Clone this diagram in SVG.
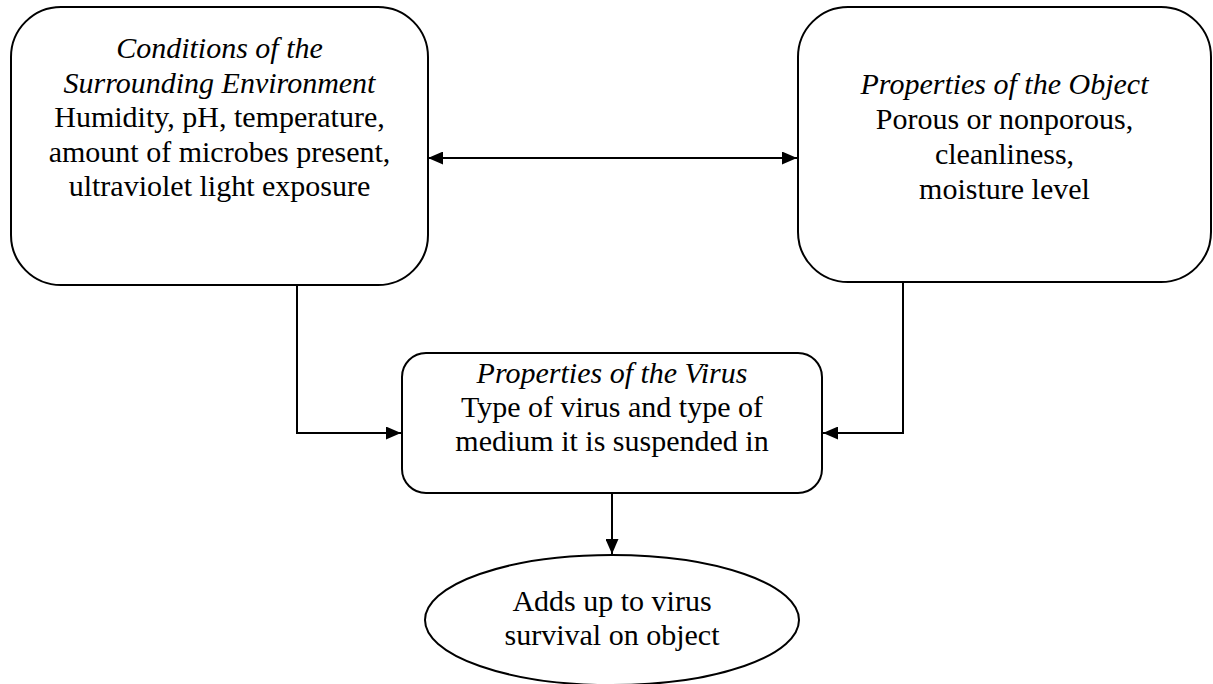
<svg xmlns="http://www.w3.org/2000/svg" width="1213" height="684" viewBox="0 0 1213 684">
  <defs>
    <marker id="ah" viewBox="0 0 15 13" refX="15" refY="6.5" markerWidth="15" markerHeight="13" markerUnits="userSpaceOnUse" orient="auto-start-reverse">
      <path d="M0,0 L15,6.5 L0,13 Z" fill="#000"/>
    </marker>
  </defs>
  <rect width="1213" height="684" fill="#fff"/>
  <g id="connectors" fill="none" stroke="#000" stroke-width="2">
    <line x1="428" y1="158" x2="797" y2="158" marker-start="url(#ah)" marker-end="url(#ah)"/>
    <polyline points="297,285 297,433 401,433" marker-end="url(#ah)"/>
    <polyline points="903,282 903,433 823,433" marker-end="url(#ah)"/>
    <line x1="612" y1="493" x2="612" y2="554" marker-end="url(#ah)"/>
  </g>
  <g id="env">
    <rect fill="#fff" stroke="#000" stroke-width="2" x="11" y="7" width="417" height="278" rx="50" ry="50"/>
    <text font-family="'Liberation Serif'" font-size="30" font-style="italic" text-anchor="middle" x="219.5" y="58">Conditions of the</text>
    <text font-family="'Liberation Serif'" font-size="30" font-style="italic" text-anchor="middle" x="219.5" y="93">Surrounding Environment</text>
    <text font-family="'Liberation Serif'" font-size="30" text-anchor="middle" x="219.5" y="127">Humidity, pH, temperature,</text>
    <text font-family="'Liberation Serif'" font-size="30" text-anchor="middle" x="219.5" y="162">amount of microbes present,</text>
    <text font-family="'Liberation Serif'" font-size="30" text-anchor="middle" x="219.5" y="196">ultraviolet light exposure</text>
  </g>
  <g id="object">
    <rect fill="#fff" stroke="#000" stroke-width="2" x="798" y="7" width="413" height="275" rx="50" ry="50"/>
    <text font-family="'Liberation Serif'" font-size="30" font-style="italic" text-anchor="middle" x="1004.5" y="94">Properties of the Object</text>
    <text font-family="'Liberation Serif'" font-size="30" text-anchor="middle" x="1004.5" y="129">Porous or nonporous,</text>
    <text font-family="'Liberation Serif'" font-size="30" text-anchor="middle" x="1004.5" y="164">cleanliness,</text>
    <text font-family="'Liberation Serif'" font-size="30" text-anchor="middle" x="1004.5" y="199">moisture level</text>
  </g>
  <g id="virus">
    <rect fill="#fff" stroke="#000" stroke-width="2" x="402" y="353" width="420" height="140" rx="24" ry="24"/>
    <text font-family="'Liberation Serif'" font-size="30" font-style="italic" text-anchor="middle" x="612" y="383">Properties of the Virus</text>
    <text font-family="'Liberation Serif'" font-size="30" text-anchor="middle" x="612" y="417">Type of virus and type of</text>
    <text font-family="'Liberation Serif'" font-size="30" text-anchor="middle" x="612" y="451">medium it is suspended in</text>
  </g>
  <g id="result">
    <ellipse fill="#fff" stroke="#000" stroke-width="2" cx="612" cy="620" rx="187" ry="65"/>
    <text font-family="'Liberation Serif'" font-size="30" text-anchor="middle" x="612" y="611">Adds up to virus</text>
    <text font-family="'Liberation Serif'" font-size="30" text-anchor="middle" x="612" y="645">survival on object</text>
  </g>
</svg>
